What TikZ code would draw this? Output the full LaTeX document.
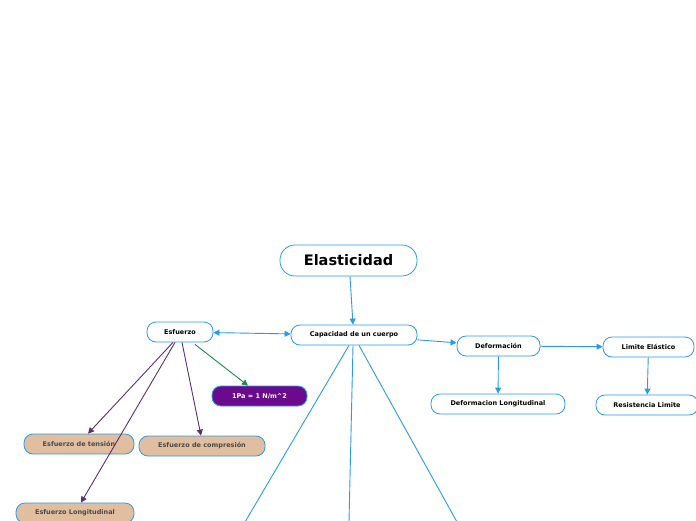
\documentclass[tikz,border=0pt]{standalone}
\usepackage{fontspec}
\setmainfont{DejaVu Sans}
\usetikzlibrary{positioning, arrows.meta}

\definecolor{mapblue}{HTML}{2A9BE6}
\definecolor{maptan}{HTML}{E0BE9F}
\definecolor{mapplum}{HTML}{6B0A8C}
\definecolor{mapviolet}{HTML}{5C2F73}
\definecolor{mapgreen}{HTML}{1E8A4C}
\definecolor{maptext}{HTML}{4A4A4A}

\tikzset{
	topic/.style={draw=mapblue, line width=0.8pt, fill=white, rounded corners=9pt,
		minimum height=20pt, inner xsep=0pt, font=\bfseries\fontsize{6.5}{7}\selectfont},
	sub topic/.style={topic, fill=maptan, text=maptext},
	unit topic/.style={topic, fill=mapplum, text=white},
	link/.style={draw=mapblue, line width=0.9pt, -{Triangle[length=6pt,width=6pt]}},
	plain link/.style={draw=mapblue, line width=0.9pt},
	purple link/.style={draw=mapviolet, line width=0.9pt, -{Triangle[length=6pt,width=6pt]}},
	green link/.style={draw=mapgreen, line width=0.9pt, -{Triangle[length=6pt,width=6pt]}}
}

\begin{document}
\begin{tikzpicture}[x=1pt, y=-1pt]
	\useasboundingbox (0,0) rectangle (696,520);

	% main nodes
	\node [topic, minimum width=137pt, minimum height=31pt, rounded corners=15pt,
		font=\bfseries\fontsize{14.5}{16}\selectfont] (elasticidad) at (348.5,260.5) {Elasticidad};
	\node [topic, minimum width=126pt] (capacidad) at (354,335) {Capacidad de un cuerpo};
	\node [topic, minimum width=66pt] (esfuerzo) at (180,332) {Esfuerzo};
	\node [topic, minimum width=83pt] (deformacion) at (498.5,346) {Deformación};
	\node [topic, minimum width=91pt] (limite) at (648.5,347) {Limite Elástico};
	\node [topic, minimum width=134pt] (def-long) at (498,404) {Deformacion Longitudinal};
	\node [topic, minimum width=102pt] (resistencia) at (647,405) {Resistencia Limite};

	% nodes under Esfuerzo
	\node [unit topic, minimum width=95pt] (pascal) at (259.5,396) {1Pa = 1 N/m\^{}2};
	\node [sub topic, minimum width=110pt] (tension) at (79,444) {Esfuerzo de tensión};
	\node [sub topic, minimum width=126pt] (compresion) at (202,446) {Esfuerzo de compresión};
	\node [sub topic, minimum width=118pt] (esf-long) at (75,513) {Esfuerzo Longitudinal};

	% branches leaving the page
	\coordinate (cut-1) at (245,522);
	\coordinate (cut-2) at (349,522);
	\coordinate (cut-3) at (457,522);

	\draw [link] ([xshift=1.5pt]elasticidad.south) -- ([xshift=-1pt]capacidad.north);
	\draw [link, {Triangle[length=6pt,width=6pt]}-{Triangle[length=6pt,width=6pt]}] (esfuerzo) -- (capacidad);
	\draw [link] (capacidad) -- (deformacion);
	\draw [link] (deformacion) -- (limite);
	\draw [link] (deformacion) -- (def-long);
	\draw [link] (limite) -- (resistencia);

	\draw [green link] ([xshift=15pt,yshift=-2pt]esfuerzo.south) -- ([xshift=-11.5pt]pascal.north);
	\draw [purple link] ([xshift=-7pt]esfuerzo.south) -- ([xshift=9pt]tension.north);
	\draw [purple link] ([xshift=-5pt]esfuerzo.south) -- ([xshift=6pt]esf-long.north);
	\draw [purple link] ([xshift=2pt]esfuerzo.south) -- ([xshift=-1pt]compresion.north);

	\draw [plain link] ([xshift=-5pt]capacidad.south) -- (cut-1);
	\draw [plain link] ([xshift=-1pt]capacidad.south) -- (cut-2);
	\draw [plain link] ([xshift=5pt]capacidad.south) -- (cut-3);
\end{tikzpicture}
\end{document}
